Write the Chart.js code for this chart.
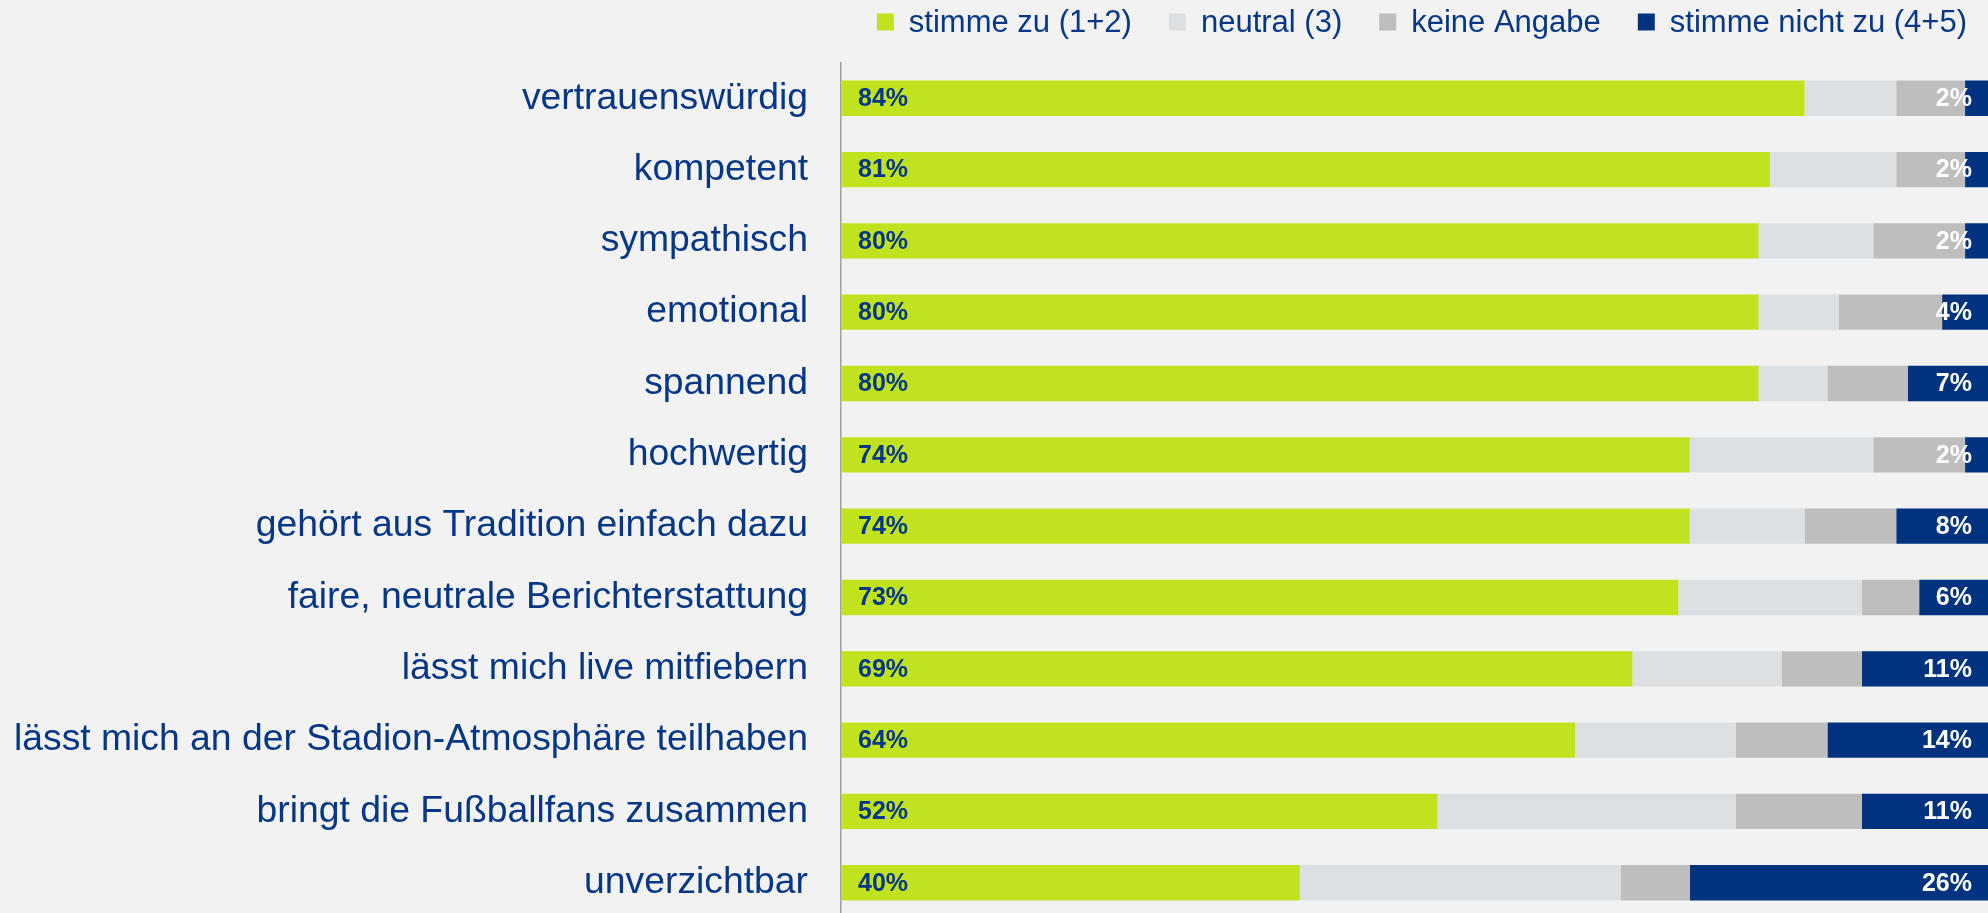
<!DOCTYPE html>
<html lang="de">
<head>
<meta charset="utf-8">
<title>Bewertung</title>
<script src="https://cdn.jsdelivr.net/npm/chart.js@4"></script>
<style>
    html, body { margin: 0; padding: 0; background: #f2f2f2; overflow: hidden; }
    #wrap { width: 1988px; height: 920px; position: relative; }
</style>
</head>
<body>
<div id="wrap"><canvas id="bewertungChart"></canvas></div>
<script>
const categories = [
    'vertrauenswürdig',
    'kompetent',
    'sympathisch',
    'emotional',
    'spannend',
    'hochwertig',
    'gehört aus Tradition einfach dazu',
    'faire, neutrale Berichterstattung',
    'lässt mich live mitfiebern',
    'lässt mich an der Stadion-Atmosphäre teilhaben',
    'bringt die Fußballfans zusammen',
    'unverzichtbar',
];

const seriesNames = ['stimme zu (1+2)', 'neutral (3)', 'keine Angabe', 'stimme nicht zu (4+5)'];
const seriesColors = ['#c0e21f', '#dde0e2', '#bebebe', '#00337f'];

const stimmeZu = [84, 81, 80, 80, 80, 74, 74, 73, 69, 64, 52, 40];
const neutral = [8, 11, 10, 7, 6, 16, 10, 16, 13, 14, 26, 28];
const keineAngabe = [6, 6, 8, 9, 7, 8, 8, 5, 7, 8, 11, 6];
const stimmeNichtZu = [2, 2, 2, 4, 7, 2, 8, 6, 11, 14, 11, 26];

const textBlue = '#063787';
const FONT = '"Liberation Sans", Arial, sans-serif';

// legend drawn by hand, right aligned above the plot
const topLegend = {
    id: 'topLegend',
    afterDraw(chart) {
        const ctx = chart.ctx;
        ctx.save();
        ctx.font = '31px ' + FONT;
        ctx.textBaseline = 'middle';
        ctx.textAlign = 'left';
        const box = 17, gap = 15, spacing = 37, yMid = 22;
        const widths = seriesNames.map(n => box + gap + ctx.measureText(n).width);
        const total = widths.reduce((a, b) => a + b, 0) + spacing * (widths.length - 1);
        let x = 1967 - total;
        seriesNames.forEach((name, i) => {
            ctx.fillStyle = seriesColors[i];
            ctx.fillRect(x, yMid - 8.5, box, box);
            ctx.fillStyle = textBlue;
            ctx.fillText(name, x + box + gap, yMid + 1);
            x += widths[i] + spacing;
        });
        ctx.restore();
    },
};

// percentage labels: agree value at the bar start, disagree value at the bar end
const barLabels = {
    id: 'barLabels',
    afterDatasetsDraw(chart) {
        const ctx = chart.ctx;
        const first = chart.getDatasetMeta(0).data;
        const last = chart.getDatasetMeta(3).data;
        ctx.save();
        ctx.font = 'bold 25px ' + FONT;
        ctx.textBaseline = 'middle';
        first.forEach((bar, i) => {
            ctx.textAlign = 'left';
            ctx.fillStyle = textBlue;
            ctx.fillText(stimmeZu[i] + '%', bar.base + 17, bar.y + 1);
            ctx.textAlign = 'right';
            ctx.fillStyle = '#ffffff';
            ctx.fillText(stimmeNichtZu[i] + '%', last[i].x - 16, bar.y + 1);
        });
        ctx.restore();
    },
};

const values = [stimmeZu, neutral, keineAngabe, stimmeNichtZu];

new Chart(document.getElementById('bewertungChart'), {
    type: 'bar',
    data: {
        labels: categories,
        datasets: values.map((data, i) => ({
            label: seriesNames[i],
            data: data,
            backgroundColor: seriesColors[i],
            borderWidth: 0,
            categoryPercentage: 1,
            barPercentage: 0.495,
        })),
    },
    options: {
        indexAxis: 'y',
        responsive: true,
        maintainAspectRatio: false,
        animation: false,
        layout: { padding: { top: 62.6, bottom: 1.6, left: 0, right: 0 } },
        plugins: {
            legend: { display: false },
            tooltip: { enabled: false },
        },
        scales: {
            x: {
                stacked: true,
                min: 0,
                max: 100,
                display: false,
            },
            y: {
                stacked: true,
                afterFit: scale => {
                    scale.width = 841;
                    scale.paddingTop = 0;
                    scale.paddingBottom = 0;
                },
                grid: { display: false, drawTicks: false },
                border: { display: true, color: '#a0a0a0', width: 1.5 },
                ticks: {
                    color: textBlue,
                    padding: 33,
                    font: { family: FONT, size: 37.3 },
                },
            },
        },
    },
    plugins: [topLegend, barLabels],
});
</script>
</body>
</html>
